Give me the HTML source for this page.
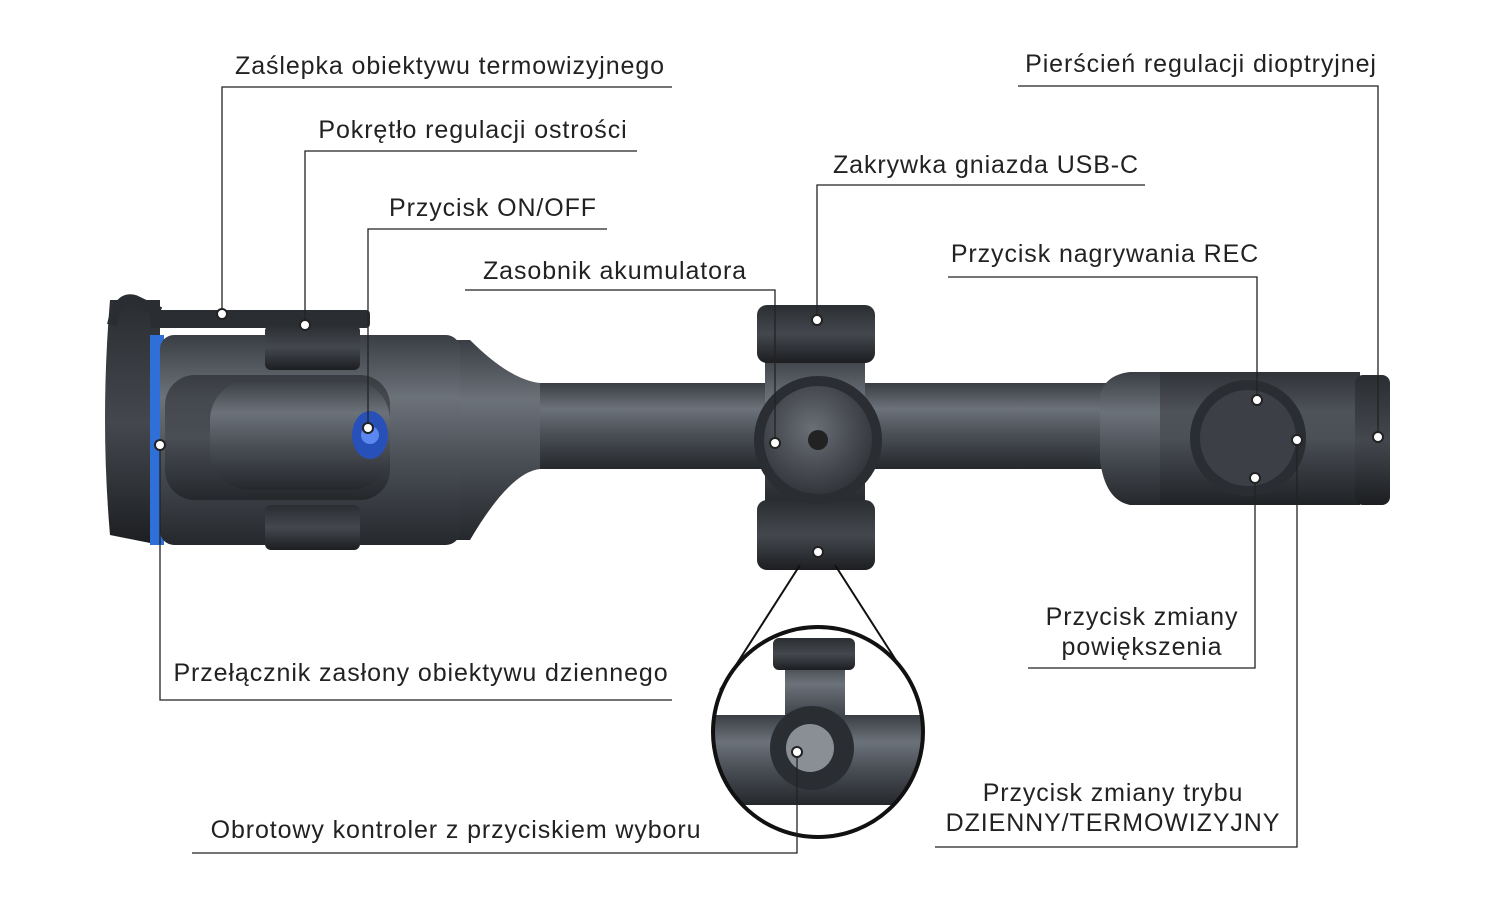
<!DOCTYPE html>
<html><head><meta charset="utf-8"><style>
html,body{margin:0;padding:0;background:#fff;}
svg{display:block}
text{font-family:"Liberation Sans",sans-serif;font-size:25px;letter-spacing:0.9px;fill:#222;}
</style></head><body>
<svg width="1500" height="900" viewBox="0 0 1500 900" xmlns="http://www.w3.org/2000/svg">
<defs>
<linearGradient id="g" x1="0" y1="0" x2="0" y2="1">
<stop offset="0" stop-color="#3a3e44"/><stop offset="0.3" stop-color="#6c727a"/><stop offset="0.6" stop-color="#4a4f56"/><stop offset="1" stop-color="#25282c"/>
</linearGradient>
<linearGradient id="gd" x1="0" y1="0" x2="0" y2="1">
<stop offset="0" stop-color="#2a2d31"/><stop offset="0.5" stop-color="#44484e"/><stop offset="1" stop-color="#1c1e21"/>
</linearGradient>
<radialGradient id="rd" cx="0.45" cy="0.4" r="0.6">
<stop offset="0" stop-color="#6a6f76"/><stop offset="1" stop-color="#33363b"/>
</radialGradient>
<clipPath id="cc"><circle cx="818" cy="732" r="104"/></clipPath>
</defs>

<rect x="480" y="383" width="640" height="86" fill="url(#g)"/>
<path d="M440 340 L470 340 Q510 380 540 383 L540 469 Q510 472 470 540 L440 540 Z" fill="url(#g)"/>
<path d="M110 300 L160 300 L160 545 L110 535 Q100 420 110 300Z" fill="url(#gd)"/>
<rect x="150" y="335" width="14" height="210" fill="#2f6fd8"/>
<rect x="160" y="335" width="300" height="210" rx="14" fill="url(#g)"/>
<rect x="165" y="375" width="225" height="125" rx="30" fill="url(#gd)" opacity="0.7"/>
<rect x="210" y="380" width="180" height="110" rx="40" fill="url(#g)"/>
<rect x="150" y="310" width="220" height="18" rx="4" fill="#2a2d31"/>
<path d="M112 325 Q118 295 135 300 L160 312" stroke="#2a2d31" stroke-width="10" fill="none"/>
<rect x="265" y="325" width="95" height="45" rx="6" fill="url(#gd)"/>
<rect x="265" y="505" width="95" height="45" rx="6" fill="url(#gd)"/>
<ellipse cx="370" cy="435" rx="18" ry="24" fill="#2750b8"/>
<circle cx="370" cy="435" r="9" fill="#5a88f0"/>
<path d="M1100 395 Q1105 375 1130 372 L1360 372 L1360 505 L1130 505 Q1105 500 1100 460Z" fill="url(#g)"/>
<rect x="1160" y="372" width="200" height="133" fill="url(#gd)" opacity="0.6"/>
<rect x="1355" y="375" width="35" height="130" rx="8" fill="url(#gd)"/>
<circle cx="1248" cy="438" r="58" fill="#2a2d31"/>
<circle cx="1248" cy="438" r="48" fill="#3c4046"/>
<rect x="765" y="355" width="100" height="150" fill="url(#g)"/>
<rect x="757" y="305" width="118" height="58" rx="10" fill="url(#gd)"/>
<rect x="757" y="500" width="118" height="70" rx="10" fill="url(#gd)"/>
<circle cx="818" cy="440" r="64" fill="#2a2d31"/>
<circle cx="818" cy="440" r="54" fill="url(#rd)"/>
<circle cx="818" cy="440" r="10" fill="#222"/>
<line x1="800" y1="565" x2="720" y2="690" stroke="#111" stroke-width="2"/>
<line x1="835" y1="565" x2="915" y2="690" stroke="#111" stroke-width="2"/>
<circle cx="818" cy="732" r="105" fill="#fff"/>
<g clip-path="url(#cc)">
<rect x="700" y="715" width="240" height="90" fill="url(#g)"/>
<rect x="785" y="660" width="60" height="80" fill="url(#g)"/>
<rect x="773" y="638" width="82" height="32" rx="6" fill="url(#gd)"/>
<circle cx="812" cy="748" r="42" fill="#2a2d31"/>
<circle cx="810" cy="748" r="24" fill="#8a8f96"/>
</g>
<circle cx="818" cy="732" r="105" fill="none" stroke="#111" stroke-width="4"/>

<g stroke="#222" stroke-width="1.3" fill="none">
<polyline points="672,87 222,87 222,314"/>
<polyline points="637,151 305,151 305,325"/>
<polyline points="607,229 368,229 368,428"/>
<polyline points="465,290 775,290 775,443"/>
<polyline points="1145,185 817,185 817,320"/>
<polyline points="1018,86 1378,86 1378,437"/>
<polyline points="948,277 1257,277 1257,400"/>
<polyline points="1028,668 1255,668 1255,478"/>
<polyline points="935,847 1297,847 1297,440"/>
<polyline points="672,700 160,700 160,445"/>
<polyline points="192,853 797,853 797,752"/>
</g>
<g fill="#fff" stroke="#222" stroke-width="2">
<circle cx="222" cy="314" r="5"/><circle cx="305" cy="325" r="5"/><circle cx="368" cy="428" r="5"/>
<circle cx="775" cy="443" r="5"/><circle cx="817" cy="320" r="5"/><circle cx="1378" cy="437" r="5"/>
<circle cx="1257" cy="400" r="5"/><circle cx="1255" cy="478" r="5"/><circle cx="1297" cy="440" r="5"/>
<circle cx="160" cy="445" r="5"/><circle cx="797" cy="752" r="5"/><circle cx="818" cy="552" r="5"/>
</g>

<text x="450" y="74" text-anchor="middle">Zaślepka obiektywu termowizyjnego</text>
<text x="473" y="138" text-anchor="middle">Pokrętło regulacji ostrości</text>
<text x="493" y="216" text-anchor="middle">Przycisk ON/OFF</text>
<text x="615" y="279" text-anchor="middle">Zasobnik akumulatora</text>
<text x="986" y="173" text-anchor="middle">Zakrywka gniazda USB-C</text>
<text x="1201" y="72" text-anchor="middle">Pierścień regulacji dioptryjnej</text>
<text x="1105" y="262" text-anchor="middle">Przycisk nagrywania REC</text>
<text x="1142" y="625" text-anchor="middle">Przycisk zmiany</text>
<text x="1142" y="655" text-anchor="middle">powiększenia</text>
<text x="1113" y="801" text-anchor="middle">Przycisk zmiany trybu</text>
<text x="1113" y="831" text-anchor="middle">DZIENNY/TERMOWIZYJNY</text>
<text x="421" y="681" text-anchor="middle">Przełącznik zasłony obiektywu dziennego</text>
<text x="456" y="838" text-anchor="middle">Obrotowy kontroler z przyciskiem wyboru</text>
</svg>
</body></html>
